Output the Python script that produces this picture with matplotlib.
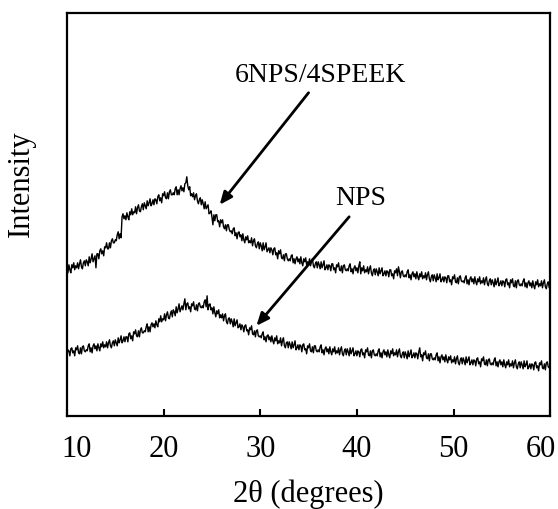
import numpy as np
import matplotlib.pyplot as plt
from matplotlib.transforms import ScaledTranslation

plt.rcParams['font.family'] = ['Liberation Serif', 'DejaVu Serif']

# scan angles, 2theta from 10 to 60 in 0.1 degree steps
two_theta = np.linspace(10, 60, 501)

# 6NPS/4SPEEK (upper trace), intensity in arbitrary units, one row per degree
blend = [
    146, 141, 149, 144, 141, 149, 146, 151, 144, 148,
    146, 151, 145, 150, 154, 147, 145, 151, 153, 148,
    154, 152, 148, 157, 151, 155, 160, 152, 155, 158,
    146, 160, 160, 155, 163, 165, 160, 163, 158, 167,
    166, 171, 165, 165, 171, 166, 173, 175, 171, 171,
    174, 173, 179, 182, 175, 180, 176, 197, 200, 195,
    198, 194, 201, 197, 194, 202, 199, 205, 199, 202,
    201, 207, 200, 206, 209, 203, 202, 207, 210, 204,
    211, 208, 205, 213, 208, 211, 215, 208, 210, 214,
    209, 215, 214, 210, 217, 219, 213, 216, 211, 220,
    218, 222, 216, 215, 221, 215, 222, 224, 219, 219,
    221, 219, 225, 227, 219, 224, 219, 225, 228, 223,
    226, 222, 230, 231, 237, 228, 224, 227, 218, 220,
    217, 221, 214, 218, 220, 213, 210, 214, 216, 209,
    214, 210, 205, 212, 205, 207, 209, 200, 201, 203,
    197, 189, 199, 193, 199, 199, 192, 193, 187, 194,
    191, 194, 187, 185, 189, 183, 189, 189, 184, 182,
    183, 180, 185, 186, 178, 181, 175, 181, 182, 177,
    179, 173, 180, 174, 171, 177, 174, 178, 171, 173,
    171, 176, 168, 173, 175, 168, 166, 170, 172, 165,
    171, 168, 163, 171, 164, 167, 171, 162, 164, 166,
    161, 166, 164, 159, 165, 166, 159, 161, 155, 163,
    160, 164, 156, 155, 159, 153, 160, 160, 155, 153,
    155, 153, 158, 159, 151, 155, 150, 155, 157, 152,
    155, 150, 157, 151, 148, 155, 152, 156, 149, 152,
    150, 155, 148, 152, 155, 148, 146, 150, 152, 146,
    152, 149, 145, 152, 146, 149, 153, 144, 146, 149,
    144, 149, 148, 143, 150, 150, 144, 146, 141, 149,
    147, 151, 144, 143, 148, 141, 148, 149, 144, 143,
    145, 143, 148, 150, 142, 145, 140, 146, 148, 143,
    146, 141, 148, 152, 140, 146, 143, 148, 141, 144,
    142, 147, 140, 145, 148, 141, 138, 143, 145, 139,
    145, 142, 138, 146, 140, 143, 146, 138, 140, 143,
    138, 143, 142, 137, 144, 144, 138, 140, 135, 143,
    141, 145, 138, 147, 142, 136, 142, 143, 138, 137,
    139, 137, 142, 144, 136, 139, 134, 140, 142, 137,
    140, 135, 142, 137, 134, 140, 137, 142, 135, 138,
    136, 141, 134, 139, 142, 135, 132, 137, 139, 133,
    139, 136, 132, 140, 134, 136, 140, 132, 134, 137,
    132, 137, 136, 131, 138, 138, 132, 134, 129, 137,
    135, 139, 132, 131, 136, 130, 137, 138, 133, 132,
    133, 131, 136, 138, 130, 134, 129, 135, 137, 132,
    135, 130, 137, 132, 129, 135, 132, 137, 130, 133,
    131, 136, 129, 134, 137, 130, 128, 133, 135, 129,
    134, 131, 127, 135, 129, 132, 136, 128, 130, 133,
    128, 133, 132, 127, 134, 135, 129, 131, 126, 134,
    131, 135, 128, 127, 133, 126, 133, 134, 129, 128,
    130, 128, 133, 135, 127, 131, 126, 131, 133, 128,
    131, 126, 133, 128, 125, 132, 129, 134, 127, 130,
    128, 133, 126, 131, 134, 127, 125, 130, 132, 126,
    129,
]

# NPS (lower trace)
nps = [
    59, 64, 63, 58, 65, 66, 61, 63, 58, 66,
    64, 68, 61, 60, 66, 60, 67, 68, 63, 62,
    64, 63, 68, 70, 62, 66, 61, 68, 70, 65,
    68, 63, 70, 66, 63, 70, 67, 72, 66, 69,
    67, 72, 66, 71, 74, 68, 66, 71, 73, 68,
    74, 71, 68, 76, 71, 74, 78, 71, 73, 77,
    72, 77, 77, 72, 80, 81, 75, 78, 73, 82,
    80, 84, 78, 77, 83, 77, 84, 86, 81, 81,
    83, 82, 87, 90, 82, 87, 82, 89, 91, 87,
    90, 86, 93, 89, 87, 95, 92, 98, 92, 95,
    94, 100, 93, 99, 102, 96, 95, 100, 103, 97,
    104, 102, 98, 107, 101, 105, 110, 102, 105, 108,
    104, 110, 115, 104, 110, 111, 105, 107, 102, 110,
    108, 112, 105, 104, 109, 103, 110, 111, 107, 106,
    108, 106, 112, 114, 107, 118, 104, 109, 110, 104,
    106, 100, 107, 101, 97, 103, 100, 104, 96, 99,
    96, 100, 93, 98, 100, 92, 90, 95, 96, 90,
    95, 92, 87, 95, 88, 91, 94, 86, 87, 90,
    84, 89, 87, 82, 88, 89, 83, 84, 79, 86,
    84, 88, 80, 79, 83, 77, 83, 84, 78, 77,
    78, 76, 80, 82, 74, 77, 72, 78, 79, 74,
    77, 72, 78, 73, 70, 76, 73, 78, 70, 73,
    71, 76, 68, 73, 76, 68, 66, 71, 72, 66,
    72, 69, 65, 72, 66, 69, 73, 64, 66, 69,
    64, 69, 68, 62, 69, 70, 64, 65, 60, 68,
    66, 70, 63, 62, 67, 61, 68, 68, 63, 62,
    64, 62, 67, 69, 61, 64, 59, 65, 67, 62,
    65, 60, 67, 62, 59, 65, 62, 67, 60, 63,
    61, 66, 59, 64, 67, 60, 58, 63, 65, 59,
    65, 62, 58, 66, 60, 63, 66, 58, 60, 63,
    58, 63, 62, 57, 64, 65, 59, 61, 56, 64,
    62, 66, 59, 58, 63, 56, 63, 64, 59, 58,
    60, 58, 63, 65, 57, 61, 56, 62, 64, 59,
    62, 57, 64, 59, 56, 63, 60, 65, 58, 61,
    59, 64, 57, 62, 65, 58, 56, 60, 62, 56,
    62, 59, 55, 63, 57, 60, 64, 56, 58, 61,
    56, 61, 60, 55, 62, 66, 57, 59, 53, 61,
    59, 63, 56, 55, 60, 53, 60, 60, 55, 54,
    56, 54, 59, 61, 53, 57, 51, 57, 59, 54,
    57, 52, 59, 54, 51, 57, 54, 58, 51, 54,
    52, 57, 50, 55, 58, 51, 49, 54, 56, 50,
    56, 53, 49, 57, 51, 54, 57, 49, 51, 54,
    49, 54, 53, 48, 55, 56, 50, 52, 47, 55,
    53, 57, 50, 49, 54, 48, 54, 55, 50, 49,
    51, 49, 54, 56, 48, 52, 47, 52, 54, 49,
    52, 47, 54, 49, 46, 52, 49, 54, 47, 50,
    48, 53, 46, 51, 54, 47, 45, 50, 52, 46,
    52, 49, 45, 53, 47, 49, 53, 45, 47, 50,
    45, 50, 49, 44, 51, 52, 46, 48, 43, 51,
    49, 53, 46, 45, 50, 44, 51, 52, 47, 46,
    47,
]

fig = plt.figure(figsize=(5.58, 5.09), dpi=100)
ax = fig.add_axes([0.120, 0.183, 0.866, 0.792])

ax.plot(two_theta, blend, color='black', lw=1.0)
ax.plot(two_theta, nps, color='black', lw=1.0)

ax.set_xlim(10, 60)
ax.set_ylim(-2, 401)
ax.set_xticks([10, 20, 30, 40, 50, 60])
ax.set_yticks([])
ax.tick_params(axis='x', direction='in', length=5, width=1.5, pad=14, labelsize=22)
for s in ax.spines.values():
    s.set_linewidth(1.6)

# end labels sit a little inside the frame, as in the original
labels = ax.get_xticklabels()
for lab, dx in ((labels[0], 10), (labels[-1], -9)):
    lab.set_transform(lab.get_transform() + ScaledTranslation(dx / 100, 0, fig.dpi_scale_trans))

ax.set_xlabel('2θ (degrees)', fontsize=22, labelpad=11)
ax.set_ylabel('Intensity', fontsize=22)
ax.yaxis.set_label_coords(-0.064, 0.576)

arrow = dict(arrowstyle='-|>,head_length=0.75,head_width=0.32', color='black', lw=2,
             shrinkA=0, shrinkB=0)
ax.annotate('', xy=(25.8, 209), xytext=(35.0, 321), arrowprops=arrow)
ax.text(36.2, 338, '6NPS/4SPEEK', fontsize=20, ha='center', va='center')
ax.annotate('', xy=(29.6, 88), xytext=(39.2, 197), arrowprops=arrow)
ax.text(40.4, 215, 'NPS', fontsize=20, ha='center', va='center')

fig.savefig('out.png', dpi=100)
